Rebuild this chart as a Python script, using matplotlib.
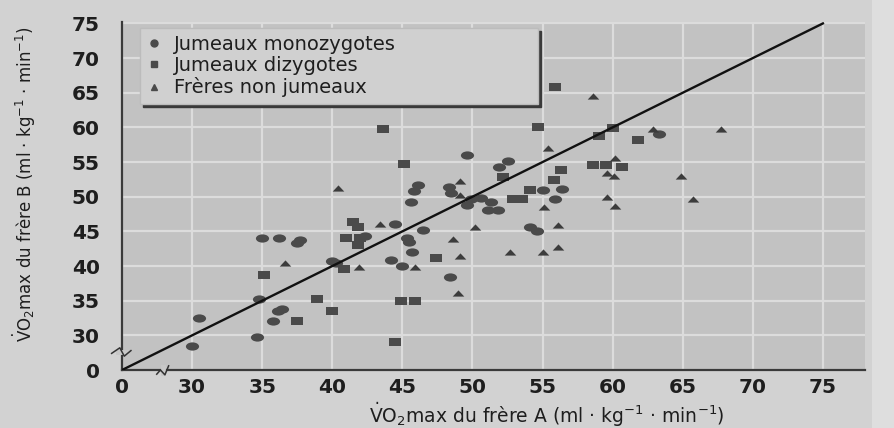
import matplotlib.pyplot as plt
import numpy as np
from matplotlib.lines import Line2D
from matplotlib.patches import Rectangle
from matplotlib.path import Path


OUTPUT_PATH = 'out.png'

# VO2max of brother A (x) and brother B (y), ml/kg/min
MONO_A = [30.0, 30.5, 34.6, 34.8, 35.0, 36.2, 36.1, 36.4, 35.8, 37.5, 37.7, 40.0,
          40.3, 42.3, 44.5, 45.3, 45.5, 46.5, 45.7, 44.2, 45.0, 48.4, 49.6, 51.9,
          52.5, 46.1, 45.8, 45.6, 48.3, 48.5, 49.6, 49.9, 50.6, 51.3, 51.1, 51.8,
          54.1, 54.6, 55.0, 56.4, 55.9, 63.3]
MONO_B = [28.5, 32.5, 29.8, 35.2, 44.0, 44.0, 33.5, 33.8, 32.0, 43.3, 43.8, 40.7,
          40.5, 44.3, 46.0, 44.0, 43.5, 45.2, 42.0, 40.8, 40.0, 38.4, 56.0, 54.3,
          55.2, 51.7, 50.8, 49.2, 51.4, 50.6, 48.8, 49.6, 49.8, 49.3, 48.1, 48.1,
          45.7, 45.0, 51.0, 51.1, 49.6, 59.1]

DI_A = [35.1, 37.5, 38.9, 40.0, 40.8, 41.5, 41.8, 41.0, 42.0, 41.8, 43.6, 45.1,
        47.4, 44.9, 45.9, 44.5, 52.2, 52.9, 53.5, 54.1, 54.7, 55.9, 56.3, 55.8,
        59.0, 60.0, 61.8, 58.6, 59.5, 60.7]
DI_B = [38.7, 32.0, 35.3, 33.5, 39.6, 46.4, 45.6, 44.1, 44.1, 43.0, 59.8, 54.7,
        41.1, 35.0, 35.0, 29.1, 52.9, 49.7, 49.7, 51.0, 60.1, 65.8, 53.9, 52.4,
        58.7, 59.9, 58.2, 54.6, 54.6, 54.3]

NON_A = [36.6, 40.4, 41.9, 43.4, 45.9, 48.6, 49.1, 49.0, 50.2, 52.7, 55.0, 56.1,
         56.1, 49.1, 49.1, 55.1, 55.4, 58.6, 62.9, 67.7, 60.2, 59.6, 60.1, 64.9,
         59.6, 60.2, 65.7]
NON_B = [40.4, 51.3, 39.9, 46.0, 39.9, 43.9, 41.4, 36.1, 45.6, 42.0, 42.0, 42.7,
         45.9, 52.3, 50.3, 48.5, 57.1, 64.6, 59.7, 59.7, 55.6, 53.4, 53.0, 53.0,
         50.0, 48.7, 49.6]

# identity line A = B
LINE_A = [0, 75]
LINE_B = [0, 75]

TICK_VALUES = [0, 30, 35, 40, 45, 50, 55, 60, 65, 70, 75]
LEGEND_LABELS = ['Jumeaux monozygotes', 'Jumeaux dizygotes', 'Frères non jumeaux']

# the axes are broken: 0 sits where 25 would be
BREAK_AT = 25


def broken(values):
    values = np.asarray(values, dtype=float)
    return np.where(values == 0, BREAK_AT, values)


def wide(path, sx=1.6):
    # the scanned figure is stretched sideways, so are its markers
    return Path(path.vertices * [sx, 1.0], path.codes)


CIRCLE = wide(Path.unit_circle())
SQUARE = wide(Path([(-1, -1), (1, -1), (1, 1), (-1, 1), (-1, -1)], closed=True))
TRIANGLE = wide(Path([(-1, -0.8), (1, -0.8), (0, 0.8), (-1, -0.8)], closed=True), 1.5)

MARK_COLOR = '#4a4a4a'
TEXT_COLOR = '#1e1e1e'


def build_plot(output_path=OUTPUT_PATH):
    fig = plt.figure(figsize=(8.94, 4.28), dpi=100, facecolor='#d2d2d2')
    fig.patches.append(Rectangle((0.975, 0), 0.025, 1, transform=fig.transFigure,
                                 facecolor='#dedede', edgecolor='none', zorder=0))
    ax = fig.add_axes([0.1365, 0.1355, 0.831, 0.813])
    ax.set_facecolor('#c2c2c2')

    ax.scatter(MONO_A, MONO_B, s=90, marker=CIRCLE, color=MARK_COLOR, linewidths=0, zorder=3)
    ax.scatter(DI_A, DI_B, s=80, marker=SQUARE, color=MARK_COLOR, linewidths=0, zorder=3)
    ax.scatter(NON_A, NON_B, s=70, marker=TRIANGLE, color='#3c3c3c', linewidths=0, zorder=3)
    ax.plot(broken(LINE_A), broken(LINE_B), color='#111111', linewidth=1.7, zorder=4)

    ax.set_xlim(25, 78)
    ax.set_ylim(25, 75.2)
    ticks = broken(TICK_VALUES)
    labels = [str(v) for v in TICK_VALUES]
    ax.set_xticks(ticks, labels)
    ax.set_yticks(ticks, labels)
    ax.tick_params(axis='both', length=0, labelsize=14.5, labelcolor=TEXT_COLOR)
    ax.tick_params(axis='x', pad=6)
    ax.tick_params(axis='y', pad=16)
    for lab in ax.get_xticklabels() + ax.get_yticklabels():
        lab.set_fontweight('bold')

    ax.grid(True, color='#dcdcdc', linewidth=1.6)
    ax.set_axisbelow(True)
    for side in ('top', 'right'):
        ax.spines[side].set_visible(False)
    for side in ('left', 'bottom'):
        ax.spines[side].set_color('#3a3a3a')
        ax.spines[side].set_linewidth(1.6)

    # break marks on both axes
    yb = (27.6 - 25) / (75.2 - 25)
    xb = (27.9 - 25) / (78 - 25)
    ax.plot([-0.006, 0.006], [yb, yb], color='#c8c8c8', linewidth=3.5,
            transform=ax.transAxes, clip_on=False, zorder=5)
    ax.plot([-0.014, -0.003, 0.003, 0.012], [yb - 0.004, yb + 0.012, yb - 0.012, yb + 0.004],
            color='#333333', linewidth=1.1, transform=ax.transAxes, clip_on=False, zorder=6)
    ax.plot([xb, xb], [-0.01, 0.01], color='#c8c8c8', linewidth=3.5,
            transform=ax.transAxes, clip_on=False, zorder=5)
    ax.plot([xb - 0.008, xb - 0.003, xb + 0.003, xb + 0.008], [-0.012, 0.0, -0.014, 0.012],
            color='#333333', linewidth=1.1, transform=ax.transAxes, clip_on=False, zorder=6)

    handles = [
        Line2D([], [], linestyle='none', marker='o', markersize=5, color=MARK_COLOR),
        Line2D([], [], linestyle='none', marker='s', markersize=5, color=MARK_COLOR),
        Line2D([], [], linestyle='none', marker='^', markersize=5, color=MARK_COLOR),
    ]
    leg = ax.legend(handles, LEGEND_LABELS, loc='upper left', mode='expand',
                    bbox_to_anchor=(0.024, 0.747, 0.536, 0.236), borderaxespad=0,
                    fontsize=14, handlelength=0.8, handletextpad=0.6, labelspacing=0.12,
                    borderpad=0.35, fancybox=False, framealpha=1, labelcolor=TEXT_COLOR,
                    shadow={'color': '#3a3a3a', 'alpha': 1})
    leg.get_frame().set_facecolor('#d0d0d0')
    leg.get_frame().set_edgecolor('#bcbcbc')
    leg.set_zorder(7)

    ax.set_xlabel(r'$\dot{\mathrm{V}}$O$_2$max du frère A (ml · kg$^{-1}$ · min$^{-1}$)',
                  fontsize=13.5, color=TEXT_COLOR, va='center')
    ax.xaxis.set_label_coords(0.572, -0.128)
    ax.set_ylabel(r'$\dot{\mathrm{V}}$O$_2$max du frère B (ml · kg$^{-1}$ · min$^{-1}$)',
                  fontsize=12, color=TEXT_COLOR, va='center')
    ax.yaxis.set_label_coords(-0.132, 0.534)

    fig.savefig(output_path, dpi=100, facecolor=fig.get_facecolor())
    return fig, ax


if __name__ == '__main__':
    build_plot()
